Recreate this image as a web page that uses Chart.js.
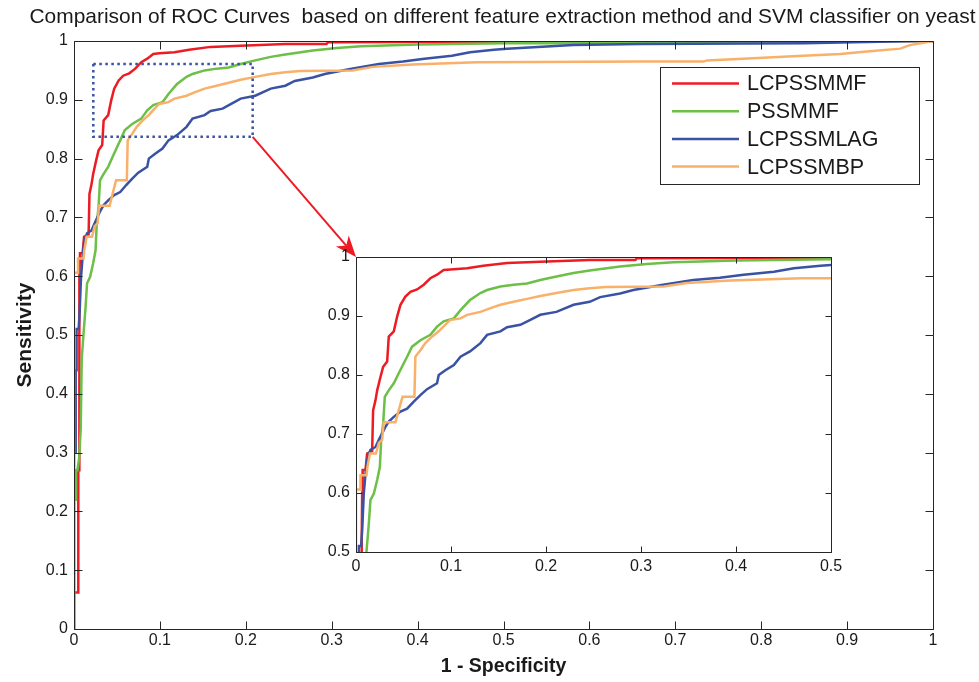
<!DOCTYPE html>
<html><head><meta charset="utf-8">
<script src="https://cdn.jsdelivr.net/npm/chart.js@4.4.0/dist/chart.umd.min.js"></script>
<style>
html,body{margin:0;padding:0;background:#fff;}
#wrap{position:relative;width:979px;height:682px;overflow:hidden;}
#main{position:absolute;left:0;top:0;}
#inset{position:absolute;left:300px;top:240px;}
</style></head><body>
<div id="wrap"><canvas id="main" width="979" height="682"></canvas><canvas id="inset" width="560" height="350"></canvas></div>
<script>
// ---------------- data ----------------
const titleText = 'Comparison of ROC Curves  based on different feature extraction method and SVM classifier on yeast';
const xAxisTitle = '1 - Specificity';
const yAxisTitle = 'Sensitivity';
const seriesNames = ['LCPSSMMF', 'PSSMMF', 'LCPSSMLAG', 'LCPSSMBP'];

const LCPSSMMF = [[0,0],[0,0.062],[0.005,0.062],[0.005,0.27],[0.006,0.27],[0.006,0.52],[0.0065,0.6],[0.007,0.639],[0.010,0.639],[0.0117,0.667],[0.017,0.671],[0.018,0.74],[0.0205,0.757],[0.0223,0.774],[0.0258,0.797],[0.0286,0.814],[0.0328,0.823],[0.0345,0.865],[0.0398,0.874],[0.0433,0.899],[0.0468,0.919],[0.052,0.933],[0.0573,0.941],[0.0643,0.945],[0.0713,0.953],[0.0783,0.964],[0.0853,0.970],[0.0923,0.978],[0.0994,0.979],[0.117,0.981],[0.134,0.985],[0.159,0.990],[0.194,0.992],[0.246,0.995],[0.294,0.995],[0.296,0.998],[0.58,0.999],[0.6,1],[1,1]];

const PSSMMF = [[0,0],[0,0.22],[0.0023,0.22],[0.0023,0.27],[0.004,0.27],[0.006,0.29],[0.0078,0.34],[0.009,0.46],[0.011,0.50],[0.0135,0.548],[0.0152,0.588],[0.0188,0.599],[0.0223,0.622],[0.0251,0.644],[0.0265,0.690],[0.0286,0.718],[0.0303,0.763],[0.0345,0.774],[0.0398,0.786],[0.045,0.803],[0.0503,0.820],[0.0538,0.831],[0.059,0.848],[0.0678,0.859],[0.0783,0.868],[0.0853,0.882],[0.0923,0.891],[0.103,0.896],[0.110,0.910],[0.120,0.927],[0.131,0.939],[0.138,0.944],[0.152,0.950],[0.166,0.953],[0.180,0.955],[0.194,0.961],[0.211,0.967],[0.229,0.973],[0.246,0.977],[0.278,0.984],[0.306,0.988],[0.334,0.991],[0.40,0.994],[0.50,0.996],[0.58,0.996],[0.69,0.997],[0.78,0.999],[1,1]];

const LCPSSMLAG = [[0,0],[0,0.30],[0.002,0.30],[0.002,0.44],[0.003,0.44],[0.003,0.51],[0.0054,0.51],[0.0065,0.537],[0.0082,0.599],[0.010,0.633],[0.0117,0.656],[0.0152,0.673],[0.0205,0.678],[0.024,0.690],[0.0275,0.701],[0.031,0.712],[0.0345,0.721],[0.0398,0.729],[0.0468,0.738],[0.0538,0.743],[0.0608,0.755],[0.0678,0.766],[0.0748,0.776],[0.0853,0.786],[0.0871,0.800],[0.0941,0.808],[0.103,0.817],[0.110,0.831],[0.120,0.840],[0.131,0.854],[0.138,0.868],[0.152,0.874],[0.159,0.881],[0.173,0.885],[0.183,0.893],[0.194,0.902],[0.211,0.907],[0.229,0.919],[0.246,0.924],[0.257,0.932],[0.278,0.938],[0.292,0.944],[0.320,0.952],[0.355,0.961],[0.383,0.965],[0.408,0.970],[0.440,0.975],[0.461,0.981],[0.489,0.985],[0.504,0.987],[0.581,0.993],[0.659,0.995],[0.85,0.996],[0.98,1],[1,1]];

const LCPSSMBP = [[0,0],[0,0.606],[0.0047,0.606],[0.0047,0.630],[0.011,0.630],[0.012,0.644],[0.0147,0.667],[0.021,0.667],[0.024,0.685],[0.0275,0.69],[0.0292,0.72],[0.0415,0.72],[0.0432,0.73],[0.047,0.752],[0.049,0.763],[0.0615,0.763],[0.0625,0.831],[0.0678,0.842],[0.073,0.854],[0.080,0.865],[0.087,0.874],[0.092,0.882],[0.099,0.893],[0.110,0.896],[0.117,0.902],[0.131,0.907],[0.141,0.913],[0.152,0.919],[0.166,0.924],[0.180,0.929],[0.194,0.934],[0.211,0.939],[0.229,0.944],[0.246,0.947],[0.263,0.949],[0.324,0.950],[0.348,0.956],[0.394,0.960],[0.469,0.964],[0.659,0.965],[0.733,0.965],[0.737,0.967],[0.779,0.970],[0.837,0.974],[0.892,0.978],[0.923,0.982],[0.962,0.987],[0.973,0.993],[0.997,0.999],[1,1]];

const xTickLabels = ['0','0.1','0.2','0.3','0.4','0.5','0.6','0.7','0.8','0.9','1'];
const yTickLabels = ['0','0.1','0.2','0.3','0.4','0.5','0.6','0.7','0.8','0.9','1'];
const insetXTickLabels = ['0','0.1','0.2','0.3','0.4','0.5'];
const insetYTickLabels = ['0.5','0.6','0.7','0.8','0.9','1'];

// zoom box (data coords) and arrow target (inset corner in main data coords)
const zoomBox = {x0: 0.0225, x1: 0.208, y0: 0.837, y1: 0.961};
const arrowTo = {x: 0.3283, y: 0.6327};

// ---------------- styles ----------------
const FONT = "'Liberation Sans', Arial, Helvetica, sans-serif";
const TXT = '#1a1a1a';
const colors = ['#ed1c24', '#6cbf47', '#3a52a3', '#f9b068'];
const drawOrder = [3, 2, 1, 0];
const allSeries = [LCPSSMMF, PSSMMF, LCPSSMLAG, LCPSSMBP];

function makeDatasets() {
  return allSeries.map((s, i) => ({
    label: seriesNames[i],
    data: s.map(([x, y]) => ({x, y})),
    borderColor: colors[i],
    backgroundColor: colors[i],
    borderWidth: 2.5,
    pointRadius: 0,
    showLine: true,
    tension: 0,
    fill: false,
    order: drawOrder[i]
  }));
}

function boxPlugin(tickLen) {
  return {
    id: 'matlabBox',
    afterDraw(chart) {
      const {ctx, chartArea: a, scales: {x, y}} = chart;
      ctx.save();
      ctx.strokeStyle = '#262626';
      ctx.lineWidth = 1;
      const L = Math.round(a.left) + 0.5, R = Math.round(a.right) + 0.5;
      const T = Math.round(a.top) + 0.5, B = Math.round(a.bottom) + 0.5;
      ctx.beginPath();
      ctx.rect(L, T, R - L, B - T);
      x.ticks.forEach(t => {
        const px = Math.round(x.getPixelForValue(t.value)) + 0.5;
        ctx.moveTo(px, B); ctx.lineTo(px, B - tickLen);
        ctx.moveTo(px, T); ctx.lineTo(px, T + tickLen);
      });
      y.ticks.forEach(t => {
        const py = Math.round(y.getPixelForValue(t.value)) + 0.5;
        ctx.moveTo(L, py); ctx.lineTo(L + tickLen, py);
        ctx.moveTo(R, py); ctx.lineTo(R - tickLen, py);
      });
      ctx.stroke();
      ctx.restore();
    }
  };
}

const whiteArea = {
  id: 'whiteArea',
  beforeDraw(chart) {
    const {ctx, chartArea: a} = chart;
    ctx.save(); ctx.fillStyle = '#fff';
    ctx.fillRect(a.left, a.top, a.right - a.left, a.bottom - a.top);
    ctx.restore();
  }
};

const titlePlugin = {
  id: 'figTitle',
  afterDraw(chart) {
    const ctx = chart.ctx;
    ctx.save();
    ctx.font = '21px ' + FONT;
    ctx.fillStyle = TXT;
    ctx.textAlign = 'center';
    ctx.textBaseline = 'middle';
    ctx.fillText(titleText, 502.5, 17, 946);
    ctx.restore();
  }
};

const annotations = {
  id: 'zoomAnno',
  afterDatasetsDraw(chart) {
    const {ctx, scales: {x, y}} = chart;
    ctx.save();
    // dotted zoom rectangle
    const x0 = x.getPixelForValue(zoomBox.x0), x1 = x.getPixelForValue(zoomBox.x1);
    const y0 = y.getPixelForValue(zoomBox.y0), y1 = y.getPixelForValue(zoomBox.y1);
    ctx.strokeStyle = '#3a52a3';
    ctx.lineWidth = 2.5;
    ctx.setLineDash([2.5, 3.5]);
    ctx.strokeRect(x0, y1, x1 - x0, y0 - y1);
    ctx.setLineDash([]);
    // arrow
    const ax = x.getPixelForValue(arrowTo.x), ay = y.getPixelForValue(arrowTo.y);
    const ang = Math.atan2(ay - y0, ax - x1);
    const headLen = 21, headW = 8.5, notch = 6;
    ctx.strokeStyle = '#ed1c24';
    ctx.fillStyle = '#ed1c24';
    ctx.lineWidth = 2;
    ctx.beginPath();
    ctx.moveTo(x1, y0);
    ctx.lineTo(ax - Math.cos(ang) * (headLen - notch), ay - Math.sin(ang) * (headLen - notch));
    ctx.stroke();
    const bx = ax - Math.cos(ang) * headLen, by = ay - Math.sin(ang) * headLen;
    const nx = -Math.sin(ang), ny = Math.cos(ang);
    ctx.beginPath();
    ctx.moveTo(ax, ay);
    ctx.lineTo(bx + nx * headW, by + ny * headW);
    ctx.lineTo(ax - Math.cos(ang) * (headLen - notch), ay - Math.sin(ang) * (headLen - notch));
    ctx.lineTo(bx - nx * headW, by - ny * headW);
    ctx.closePath();
    ctx.fill();
    // legend box
    const LL = 660, LT = 67, LW = 259, LH = 117;
    ctx.fillStyle = '#fff';
    ctx.fillRect(LL, LT, LW, LH);
    ctx.strokeStyle = '#262626';
    ctx.lineWidth = 1;
    ctx.strokeRect(LL + 0.5, LT + 0.5, LW, LH);
    ctx.font = '21.5px ' + FONT;
    ctx.textBaseline = 'middle';
    ctx.textAlign = 'left';
    chart.data.datasets.forEach((ds, i) => {
      const yy = 83.5 + i * 27.7;
      ctx.strokeStyle = ds.borderColor;
      ctx.lineWidth = 2.5;
      ctx.beginPath(); ctx.moveTo(672, yy); ctx.lineTo(739, yy); ctx.stroke();
      ctx.fillStyle = TXT;
      ctx.fillText(ds.label, 747, yy + 1);
    });
    ctx.restore();
  }
};

// ---------------- main chart ----------------
new Chart(document.getElementById('main'), {
  type: 'scatter',
  data: {datasets: makeDatasets()},
  options: {
    responsive: false,
    devicePixelRatio: 1,
    animation: false,
    events: [],
    layout: {padding: {top: 41, right: 46, left: 0, bottom: 0}},
    plugins: {
      legend: {display: false},
      tooltip: {enabled: false},
      title: {display: false}
    },
    scales: {
      x: {
        type: 'linear', min: 0, max: 1,
        grid: {display: false, drawTicks: false},
        border: {display: false},
        ticks: {stepSize: 0.1, autoSkip: false, maxRotation: 0, padding: 2, color: TXT,
          font: {family: FONT, size: 16},
          callback: (v, i) => xTickLabels[i] ?? ''},
        title: {display: true, text: xAxisTitle, color: TXT,
          font: {family: FONT, size: 19.5, weight: 'bold', lineHeight: 1.2},
          padding: {top: 0, bottom: 3.3}},
        afterFit: s => { s.height = 53; }
      },
      y: {
        type: 'linear', min: 0, max: 1,
        grid: {display: false, drawTicks: false},
        border: {display: false},
        ticks: {stepSize: 0.1, autoSkip: false, padding: 6, color: TXT,
          font: {family: FONT, size: 16},
          callback: (v, i) => yTickLabels[i] ?? ''},
        title: {display: true, text: yAxisTitle, color: TXT,
          font: {family: FONT, size: 21, weight: 'bold', lineHeight: 1.2},
          padding: {top: 12.4, bottom: 0}},
        afterFit: s => { s.width = 74; }
      }
    }
  },
  plugins: [annotations, titlePlugin, boxPlugin(8)]
});

// ---------------- inset chart ----------------
new Chart(document.getElementById('inset'), {
  type: 'scatter',
  data: {datasets: makeDatasets()},
  options: {
    responsive: false,
    devicePixelRatio: 1,
    animation: false,
    events: [],
    layout: {padding: {top: 17, right: 29, left: 0, bottom: 0}},
    plugins: {legend: {display: false}, tooltip: {enabled: false}, title: {display: false}},
    scales: {
      x: {
        type: 'linear', min: 0, max: 0.5,
        grid: {display: false, drawTicks: false},
        border: {display: false},
        ticks: {stepSize: 0.1, autoSkip: false, maxRotation: 0, padding: 5, color: TXT,
          font: {family: FONT, size: 16},
          callback: (v, i) => insetXTickLabels[i] ?? ''},
        afterFit: s => { s.height = 38; }
      },
      y: {
        type: 'linear', min: 0.5, max: 1,
        grid: {display: false, drawTicks: false},
        border: {display: false},
        ticks: {stepSize: 0.1, autoSkip: false, padding: 6, color: TXT,
          font: {family: FONT, size: 16},
          callback: (v, i) => insetYTickLabels[i] ?? ''},
        afterFit: s => { s.width = 56; }
      }
    }
  },
  plugins: [whiteArea, boxPlugin(6)]
});
</script>
</body></html>
